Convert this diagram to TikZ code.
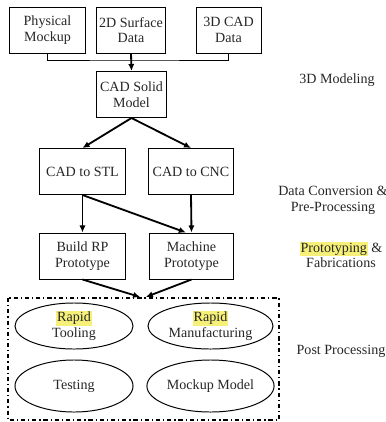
\documentclass[tikz,border=0pt]{standalone}
\usepackage{fontspec}
\setmainfont{Liberation Serif}
\usepackage{xcolor}
\usetikzlibrary{shapes.geometric, arrows.meta}
\definecolor{hlyellow}{RGB}{246,240,120}
\newcommand{\marktext}[1]{{\setlength{\fboxsep}{0.6pt}\colorbox{hlyellow}{#1}}}

\begin{document}
\begin{tikzpicture}[x=0.025cm, y=-0.025cm,
    font=\fontsize{10}{11.2}\selectfont, text=black!85,
    stagebox/.style={draw, line width=0.7pt, align=center, minimum height=1.15cm, inner sep=1pt},
    postoval/.style={draw, ellipse, line width=0.7pt, align=center, minimum width=2.95cm, inner sep=1pt},
    flow/.style={line width=1.3pt, -{Latex[length=5pt, width=4.5pt]}}]
  \useasboundingbox (0,0) rectangle (386,422);
  % input data
  \node[stagebox, minimum width=1.875cm] (phys) at (47.5,30) {Physical\\Mockup};
  \node[stagebox, minimum width=1.725cm] (surf) at (131,30) {2D Surface\\Data};
  \node[stagebox, minimum width=1.625cm] (cad3d) at (228.5,30) {3D CAD\\Data};
  \coordinate (bus) at (131,60);
  \draw[line width=0.7pt] (phys.south) |- (bus) -| (cad3d.south);
  % 3D modeling
  \node[stagebox, minimum width=1.725cm] (solid) at (131.5,94.5) {CAD Solid\\Model};
  \draw[flow] (surf.south) -- (solid.north);
  % data conversion
  \node[stagebox, minimum width=2.125cm] (stl) at (82.5,171.5) {CAD to STL};
  \node[stagebox, minimum width=2.1cm] (cnc) at (191,171.5) {CAD to CNC};
  \draw[flow] (solid.south) -- (stl.north);
  \draw[flow] (solid.south) -- (cnc.north);
  % prototyping
  \node[stagebox, minimum width=2.125cm] (rp) at (82.5,256) {Build RP\\Prototype};
  \node[stagebox, minimum width=2.075cm] (mach) at (191.5,256) {Machine\\Prototype};
  \draw[flow] (stl.south) -- (rp.north);
  \draw[flow] (stl.south) -- ([xshift=-4pt]mach.north);
  \draw[flow] (cnc.south) -- (mach.north);
  % post processing
  \draw[line width=1pt, dash dot] (8,298) rectangle (279,420);
  \coordinate (join) at (143,297);
  \draw[flow] (rp.south) -- ([xshift=-2pt]join);
  \draw[flow] (mach.south) -- ([xshift=2pt]join);
  \node[postoval, minimum height=1.15cm] (tool) at (74,326) {\marktext{Rapid}\\Tooling};
  \node[postoval, minimum width=3.125cm, minimum height=1.15cm] (manu) at (210.5,326) {\marktext{Rapid}\\Manufacturing};
  \node[postoval, minimum height=1.3cm] (test) at (74,386) {Testing};
  \node[postoval, minimum width=3.125cm, minimum height=1.3cm] (mock) at (210.5,386) {Mockup Model};
  % stage labels
  \node[align=center] (lmodel) at (337,80) {3D Modeling};
  \node[align=center] (lconv) at (333,200) {Data Conversion \&\\Pre-Processing};
  \node[align=center] (lproto) at (341,255) {\marktext{Prototyping} \&\\Fabrications};
  \node[align=center] (lpost) at (341,351) {Post Processing};
\end{tikzpicture}
\end{document}
